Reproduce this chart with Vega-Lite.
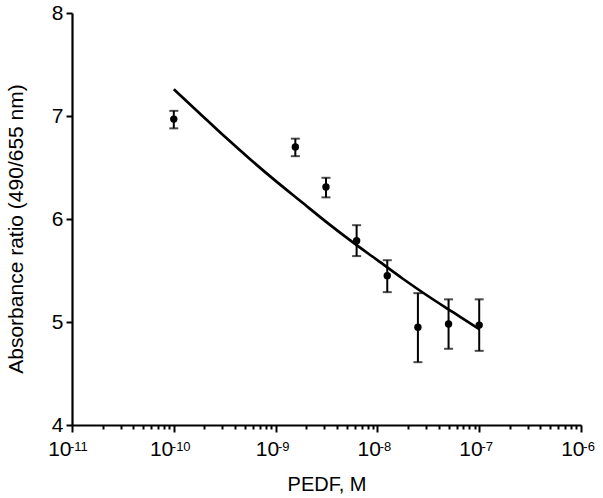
{
  "$schema": "https://vega.github.io/schema/vega-lite/v6.json",
  "width": 509,
  "height": 412,
  "autosize": {"type": "none"},
  "padding": {"left": 72, "top": 13, "right": 22, "bottom": 73},
  "background": "white",
  "config": {
    "view": {"stroke": null},
    "font": "Liberation Sans",
    "axis": {
      "grid": false,
      "domainColor": "black",
      "domainWidth": 2.2,
      "tickColor": "black",
      "tickWidth": 2,
      "labelColor": "black",
      "titleColor": "black",
      "labelFont": "Liberation Sans",
      "titleFont": "Liberation Sans",
      "titleFontWeight": "normal",
      "labelFontSize": 21,
      "titleFontSize": 21
    }
  },
  "datasets": {
    "points": [
      {"conc": 1e-10, "ratio": 6.97, "lo": 6.88, "hi": 7.05},
      {"conc": 1.5625e-9, "ratio": 6.70, "lo": 6.61, "hi": 6.78},
      {"conc": 3.125e-9, "ratio": 6.31, "lo": 6.21, "hi": 6.40},
      {"conc": 6.25e-9, "ratio": 5.79, "lo": 5.64, "hi": 5.94},
      {"conc": 1.25e-8, "ratio": 5.45, "lo": 5.29, "hi": 5.60},
      {"conc": 2.5e-8, "ratio": 4.95, "lo": 4.61, "hi": 5.28},
      {"conc": 5e-8, "ratio": 4.98, "lo": 4.74, "hi": 5.22},
      {"conc": 1e-7, "ratio": 4.97, "lo": 4.72, "hi": 5.22}
    ],
    "fit": [
      {"conc": 1e-10, "ratio": 7.26},
      {"conc": 1.778e-10, "ratio": 7.03},
      {"conc": 3.162e-10, "ratio": 6.80},
      {"conc": 5.623e-10, "ratio": 6.58},
      {"conc": 1e-9, "ratio": 6.37},
      {"conc": 1.778e-9, "ratio": 6.17},
      {"conc": 3.162e-9, "ratio": 5.97},
      {"conc": 5.623e-9, "ratio": 5.78},
      {"conc": 1e-8, "ratio": 5.60},
      {"conc": 1.778e-8, "ratio": 5.42},
      {"conc": 3.162e-8, "ratio": 5.25},
      {"conc": 5.623e-8, "ratio": 5.09},
      {"conc": 1e-7, "ratio": 4.93}
    ]
  },
  "resolve": {"axis": {"x": "independent"}},
  "layer": [
    {
      "data": {"name": "fit"},
      "mark": {"type": "line", "color": "black", "strokeWidth": 2.7, "interpolate": "monotone"},
      "encoding": {
        "x": {
          "field": "conc",
          "type": "quantitative",
          "title": "PEDF, M",
          "scale": {"type": "log", "domain": [1e-11, 1e-6], "nice": false},
          "axis": {
            "orient": "bottom",
            "values": [1e-11, 2e-11, 3e-11, 4e-11, 5e-11, 6e-11, 7e-11, 8e-11, 9e-11,
                       1e-10, 2e-10, 3e-10, 4e-10, 5e-10, 6e-10, 7e-10, 8e-10, 9e-10,
                       1e-9, 2e-9, 3e-9, 4e-9, 5e-9, 6e-9, 7e-9, 8e-9, 9e-9,
                       1e-8, 2e-8, 3e-8, 4e-8, 5e-8, 6e-8, 7e-8, 8e-8, 9e-8,
                       1e-7, 2e-7, 3e-7, 4e-7, 5e-7, 6e-7, 7e-7, 8e-7, 9e-7, 1e-6],
            "labelExpr": "abs(log(datum.value)/LN10 - round(log(datum.value)/LN10)) < 0.001 ? '10' : ''",
            "labelOverlap": false,
            "labelFlush": false,
            "labelAlign": "right",
            "labelBaseline": "alphabetic",
            "labelOffset": {"condition": {"test": "datum.value < 5e-10", "value": -1}, "value": 3},
            "labelPadding": 23,
            "tickSize": {"condition": {"test": "abs(log(datum.value)/LN10 - round(log(datum.value)/LN10)) < 0.001", "value": 7}, "value": 4},
            "titleFontSize": 20,
            "titleBaseline": "alphabetic",
            "titleX": 254.5,
            "titleY": 65
          }
        },
        "y": {
          "field": "ratio",
          "type": "quantitative",
          "title": "Absorbance ratio (490/655 nm)",
          "scale": {"domain": [4, 8], "nice": false},
          "axis": {
            "values": [4, 5, 6, 7, 8],
            "format": "d",
            "tickSize": 6,
            "labelPadding": 3,
            "titleFontSize": 21,
            "titleBaseline": "alphabetic",
            "titleX": -49.3,
            "titleY": 215.5
          }
        }
      }
    },
    {
      "data": {"name": "points"},
      "mark": {"type": "rule", "color": "black", "strokeWidth": 2},
      "encoding": {
        "x": {
          "field": "conc",
          "type": "quantitative",
          "axis": {
            "orient": "bottom",
            "title": null,
            "domain": false,
            "ticks": false,
            "values": [1e-11, 1e-10, 1e-9, 1e-8, 1e-7, 1e-6],
            "labelExpr": "['-11','-10','-9','-8','-7','-6'][round(log(datum.value)/LN10) + 11]",
            "labelOverlap": false,
            "labelFlush": false,
            "labelFontSize": 13,
            "labelAlign": "left",
            "labelBaseline": "alphabetic",
            "labelOffset": {"condition": {"test": "datum.value < 5e-10", "value": -2.5}, "value": 1.8},
            "labelPadding": 25
          }
        },
        "y": {"field": "lo", "type": "quantitative", "title": "Absorbance ratio (490/655 nm)"},
        "y2": {"field": "hi"}
      }
    },
    {
      "data": {"name": "points"},
      "mark": {"type": "tick", "orient": "horizontal", "color": "black", "size": 9, "thickness": 2},
      "encoding": {
        "x": {"field": "conc", "type": "quantitative", "axis": null},
        "y": {"field": "lo", "type": "quantitative", "title": "Absorbance ratio (490/655 nm)"}
      }
    },
    {
      "data": {"name": "points"},
      "mark": {"type": "tick", "orient": "horizontal", "color": "black", "size": 9, "thickness": 2},
      "encoding": {
        "x": {"field": "conc", "type": "quantitative", "axis": null},
        "y": {"field": "hi", "type": "quantitative", "title": "Absorbance ratio (490/655 nm)"}
      }
    },
    {
      "data": {"name": "points"},
      "mark": {"type": "circle", "color": "black", "opacity": 1, "size": 55},
      "encoding": {
        "x": {"field": "conc", "type": "quantitative", "axis": null},
        "y": {"field": "ratio", "type": "quantitative", "title": "Absorbance ratio (490/655 nm)"}
      }
    }
  ]
}
